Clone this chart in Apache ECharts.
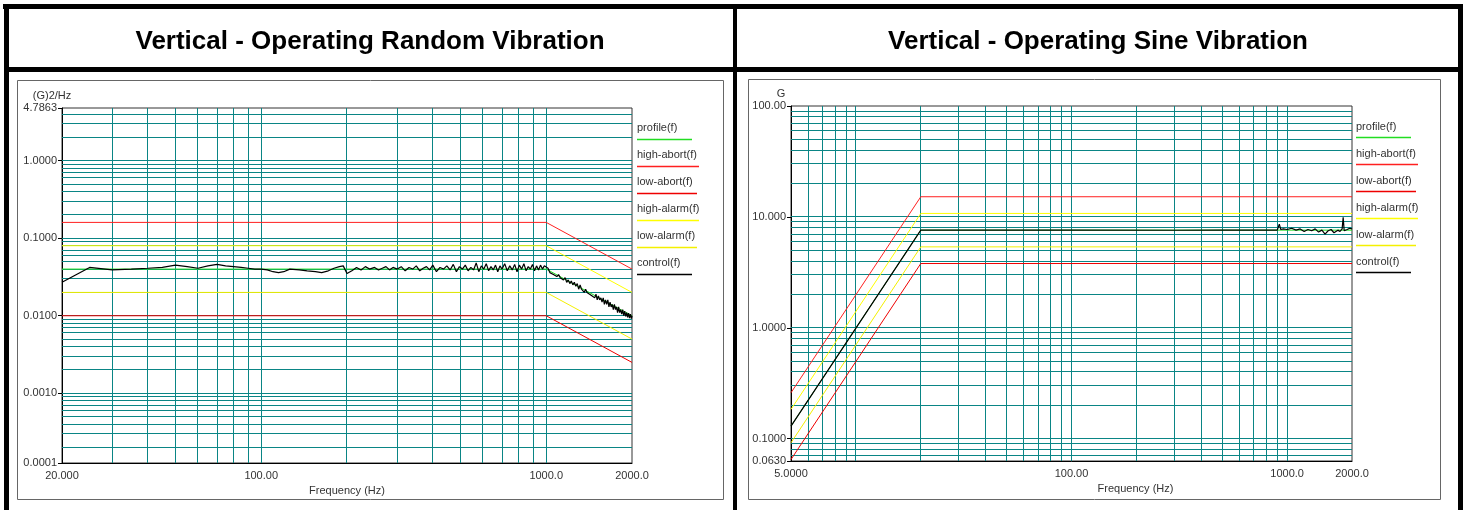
<!DOCTYPE html>
<html><head><meta charset="utf-8">
<script src="https://cdn.jsdelivr.net/npm/echarts@6/dist/echarts.min.js"></script>
<style>html,body{margin:0;padding:0;background:#fff}#c{width:1463px;height:510px}</style>
</head><body><div id="c"></div>
<script>
// ---------- data ----------
const titles = ['Vertical - Operating Random Vibration', 'Vertical - Operating Sine Vibration'];
const yNames = ['(G)2/Hz', 'G'];
const xName = 'Frequency (Hz)';
const seriesNames = ['profile(f)', 'high-abort(f)', 'low-abort(f)', 'high-alarm(f)', 'low-alarm(f)', 'control(f)'];

// axis ranges and tick labels
const randomXRange = [20, 2000];
const randomYRange = [0.000126, 4.7863];
const sineXRange = [5, 2000];
const sineYRange = [0.063, 100];
const randomXTicks = [20, 100, 1000, 2000];
const randomYTicks = [0.000126, 0.001, 0.01, 0.1, 1, 4.7863];
const sineXTicks = [5, 100, 1000, 2000];
const sineYTicks = [0.063, 0.1, 1, 10, 100];

// random vibration limits  [Hz, g^2/Hz]
const randomProfile   = [[20, 0.04], [1000, 0.04], [2000, 0.01]];
const randomHighAbort = [[20, 0.16], [1000, 0.16], [2000, 0.04]];
const randomLowAbort  = [[20, 0.01], [1000, 0.01], [2000, 0.0025]];
const randomHighAlarm = [[20, 0.08], [1000, 0.08], [2000, 0.02]];
const randomLowAlarm  = [[20, 0.02], [1000, 0.02], [2000, 0.005]];
const randomControl = [
[20,0.027],[25,0.042],[30,0.039],[35,0.040],[40,0.041],[45,0.042],[50,0.045],[55,0.043],[60,0.041],[65,0.044],[70,0.046],[75,0.044],[80,0.043],[85,0.042],[90,0.041],[95,0.040],[100,0.040],
[105,0.039],[110,0.037],[115,0.036],[120,0.037],[126,0.040],[136,0.039],[145,0.038],[155,0.037],[163,0.036],[172,0.038],[180,0.041],[188,0.043],[194,0.044],[200,0.035],[208,0.038],[216,0.042],[224,0.039],[232,0.043],[240,0.040],[250,0.042],[258,0.039],[266,0.041],[274,0.043],[282,0.039],[290,0.042],[300,0.040],
[310,0.043],[320,0.038],[330,0.042],[340,0.040],[350,0.044],[360,0.038],[370,0.041],[380,0.043],[390,0.039],[400,0.045],[412,0.037],[424,0.042],[436,0.040],[448,0.044],[460,0.039],[472,0.046],[484,0.037],[496,0.043],[508,0.040],[520,0.045],[532,0.038],[544,0.042],[556,0.039],[568,0.048],[580,0.037],[592,0.044],[604,0.040],[616,0.047],[628,0.038],[640,0.043],[652,0.039],[664,0.045],[676,0.037],[688,0.044],[700,0.040],[715,0.047],[730,0.038],[745,0.044],[760,0.039],[775,0.046],[790,0.037],[805,0.045],[820,0.040],[835,0.047],[850,0.038],[865,0.043],[880,0.040],[895,0.046],[910,0.038],[925,0.044],[940,0.039],[955,0.045],[970,0.040],[985,0.044],[1000,0.042],
[1015,0.041],[1030,0.036],[1045,0.038],[1060,0.034],[1075,0.036],[1090,0.032],[1105,0.034],[1120,0.031],[1135,0.032],[1150,0.029],[1165,0.031],[1180,0.027],[1195,0.029],[1210,0.026],[1225,0.028],[1240,0.025],[1255,0.027],[1270,0.024],[1285,0.026],[1300,0.022],[1315,0.025],[1330,0.022],[1345,0.023],[1360,0.020],[1375,0.022],[1390,0.020],[1405,0.021],[1420,0.019],[1435,0.020],[1450,0.018],[1465,0.019],[1480,0.017],[1495,0.019],[1510,0.016],[1525,0.018],[1540,0.016],[1555,0.017],[1570,0.015],[1585,0.017],[1600,0.014],[1615,0.016],[1630,0.014],[1645,0.016],[1660,0.013],[1675,0.015],[1690,0.013],[1705,0.014],[1720,0.012],[1735,0.014],[1750,0.012],[1765,0.013],[1780,0.011],[1795,0.013],[1810,0.011],[1825,0.012],[1840,0.0105],[1855,0.012],[1870,0.010],[1885,0.0115],[1900,0.0098],[1915,0.011],[1930,0.0095],[1945,0.0108],[1960,0.0093],[1975,0.0105],[1990,0.0092],[2000,0.0100]
];

// sine vibration limits [Hz, g]
const sineProfile   = [[5, 0.13], [20, 7.6], [2000, 7.6]];
const sineHighAbort = [[5, 0.26], [20, 15.2], [2000, 15.2]];
const sineLowAbort  = [[5, 0.065], [20, 3.8], [2000, 3.8]];
const sineHighAlarm = [[5, 0.184], [20, 10.75], [2000, 10.75]];
const sineLowAlarm  = [[5, 0.092], [20, 5.37], [2000, 5.37]];
const sineControl = [
[5,0.13],[20,7.6],[100,7.6],[300,7.58],[500,7.62],[700,7.6],[900,7.6],[920,8.6],[935,7.7],[960,7.8],[1000,7.7],[1050,7.9],[1100,7.6],[1150,7.8],[1200,7.4],[1250,7.7],[1300,7.5],[1350,7.8],[1400,7.3],[1450,7.6],[1500,7.0],[1550,7.5],[1600,7.7],[1650,7.2],[1680,7.05],[1720,7.6],[1760,7.4],[1800,7.8],[1820,9.9],[1840,7.5],[1900,7.7],[1950,7.9],[2000,7.8]
];

// ---------- rendering ----------
const FONT = "'Liberation Sans', Arial, sans-serif";
const TEAL = '#0a8585';
const colors = ['#22dd22', '#ff2020', '#ee0000', '#ffff00', '#f4f000', '#000000'];
const mantissas = [1, 2, 3, 4, 5, 6, 7, 8, 9];

function gridValues(lo, hi) {
  const out = [];
  for (let e = -5; e <= 4; e++) {
    for (const m of mantissas) {
      const v = +(m * Math.pow(10, e)).toPrecision(6);
      if (v > lo * 1.001 && v < hi * 0.999) out.push(v);
    }
  }
  return out;
}
function fmt(v) {
  if (v >= 1000) return v.toFixed(1);
  if (v >= 100) return v.toFixed(2);
  if (v >= 10) return v.toFixed(3);
  return v.toFixed(4);
}
function labeller(list) {
  return function (v) {
    for (const t of list) if (Math.abs(Math.log10(v / t)) < 0.005) return fmt(t);
    return '';
  };
}

const chart = echarts.init(document.getElementById('c'), null, { renderer: 'canvas' });

function makeAxes(idx, xr, yr, xt, yt, yName, xNamePad) {
  const xAxis = {
    type: 'log', gridIndex: idx, logBase: 10, min: xr[0], max: xr[1],
    axisLine: { show: true, lineStyle: { color: '#000', width: 1 } },
    axisTick: { show: false },
    splitLine: { show: false }, minorSplitLine: { show: false },
    axisLabel: { formatter: labeller(xt), color: '#333', fontSize: 11, fontFamily: FONT, margin: 7, showMinLabel: true, showMaxLabel: true },
    name: xName, nameLocation: 'middle', nameGap: 22,
    nameTextStyle: { color: '#333', fontSize: 11, fontFamily: FONT, padding: [0, 0, 0, xNamePad] }
  };
  const yAxis = {
    type: 'log', gridIndex: idx, logBase: 10, min: yr[0], max: yr[1],
    axisLine: { show: true, lineStyle: { color: '#000', width: 1 } },
    axisTick: { show: true, length: 4, lineStyle: { color: '#000' } },
    splitLine: { show: false },
    axisLabel: { formatter: labeller(yt), color: '#333', fontSize: 11, fontFamily: FONT, margin: 5, showMinLabel: true, showMaxLabel: true },
    name: yName, nameLocation: 'end', nameGap: 7,
    nameTextStyle: { color: '#333', fontSize: 11, fontFamily: FONT, align: 'center', padding: [0, 20, 0, 0] }
  };
  return [xAxis, yAxis];
}

// grid lines drawn through the axes' own scales (custom series)
function gridSeries(idx, xr, yr) {
  const data = [];
  gridValues(xr[0], xr[1]).forEach(v => data.push([v, yr[0], 0]));
  gridValues(yr[0], yr[1]).forEach(v => data.push([xr[0], v, 1]));
  const snap = a => Math.round(a - 0.5) + 0.5;
  return {
    type: 'custom', xAxisIndex: idx, yAxisIndex: idx, silent: true, z: 1, animation: false,
    encode: { x: 0, y: 1 }, clip: false,
    data: data,
    renderItem: function (params, api) {
      const dir = api.value(2);
      let p1, p2;
      if (dir === 0) {
        p1 = api.coord([api.value(0), yr[0]]); p2 = api.coord([api.value(0), yr[1]]);
        p1[0] = p2[0] = snap(p1[0]);
      } else {
        p1 = api.coord([xr[0], api.value(1)]); p2 = api.coord([xr[1], api.value(1)]);
        p1[1] = p2[1] = snap(p1[1]);
      }
      return { type: 'line', silent: true, shape: { x1: p1[0], y1: p1[1], x2: p2[0], y2: p2[1] }, style: { stroke: TEAL, lineWidth: 1 } };
    }
  };
}

function makeSeries(idx, lists) {
  return lists.map((d, i) => ({
    type: 'line', name: seriesNames[i], xAxisIndex: idx, yAxisIndex: idx,
    data: d, showSymbol: false, symbol: 'none', animation: false, silent: true,
    z: 3 + i,
    lineStyle: { color: colors[i], width: i === 5 ? 1.2 : 1 }
  }));
}

const ax0 = makeAxes(0, randomXRange, randomYRange, randomXTicks, randomYTicks, yNames[0], 0);
const ax1 = makeAxes(1, sineXRange, sineYRange, sineXTicks, sineYTicks, yNames[1], 128);

const graphics = [];
// black table borders
[[3, 4, 1460, 5], [4, 4, 5, 506], [4, 67, 1459, 5], [733, 4, 4, 506], [1458, 4, 5, 506]].forEach(r =>
  graphics.push({ type: 'rect', shape: { x: r[0], y: r[1], width: r[2], height: r[3] }, style: { fill: '#000' }, z: 100 }));
// gray chart frames
graphics.push({ type: 'rect', shape: { x: 17.5, y: 80.5, width: 706, height: 419 }, style: { fill: 'none', stroke: '#666', lineWidth: 1 }, z: 0 });
graphics.push({ type: 'rect', shape: { x: 748.5, y: 79.5, width: 692, height: 420 }, style: { fill: 'none', stroke: '#666', lineWidth: 1 }, z: 0 });
// legends: label with coloured underline
const legendLen = [55, 62, 60, 62, 60, 55];
[[637, 128, 139.5], [1356, 127, 137.5]].forEach(p => {
  seriesNames.forEach((n, i) => {
    graphics.push({ type: 'text', x: p[0], y: p[1] + 27 * i, style: { text: n, fill: '#333', font: '11px ' + FONT, textVerticalAlign: 'middle', textAlign: 'left' }, z: 10 });
    graphics.push({ type: 'line', shape: { x1: p[0], y1: p[2] + 27 * i, x2: p[0] + legendLen[i], y2: p[2] + 27 * i }, style: { stroke: colors[i], lineWidth: 1.5 }, z: 10 });
  });
});

chart.setOption({
  animation: false,
  backgroundColor: '#fff',
  title: [
    { text: titles[0], left: 370, top: 29, textAlign: 'center', padding: 0, textStyle: { fontSize: 26, fontWeight: 'bold', color: '#000', fontFamily: FONT } },
    { text: titles[1], left: 1098, top: 29, textAlign: 'center', padding: 0, textStyle: { fontSize: 26, fontWeight: 'bold', color: '#000', fontFamily: FONT } }
  ],
  grid: [
    { left: 62, top: 108, width: 570, height: 355, show: true, borderColor: '#333', borderWidth: 1, backgroundColor: 'transparent' },
    { left: 791, top: 106, width: 561, height: 355, show: true, borderColor: '#333', borderWidth: 1, backgroundColor: 'transparent' }
  ],
  xAxis: [ax0[0], ax1[0]],
  yAxis: [ax0[1], ax1[1]],
  series: [].concat(
    [gridSeries(0, randomXRange, randomYRange)],
    makeSeries(0, [randomProfile, randomHighAbort, randomLowAbort, randomHighAlarm, randomLowAlarm, randomControl]),
    [gridSeries(1, sineXRange, sineYRange)],
    makeSeries(1, [sineProfile, sineHighAbort, sineLowAbort, sineHighAlarm, sineLowAlarm, sineControl])
  ),
  graphic: graphics
});
</script>
</body></html>
